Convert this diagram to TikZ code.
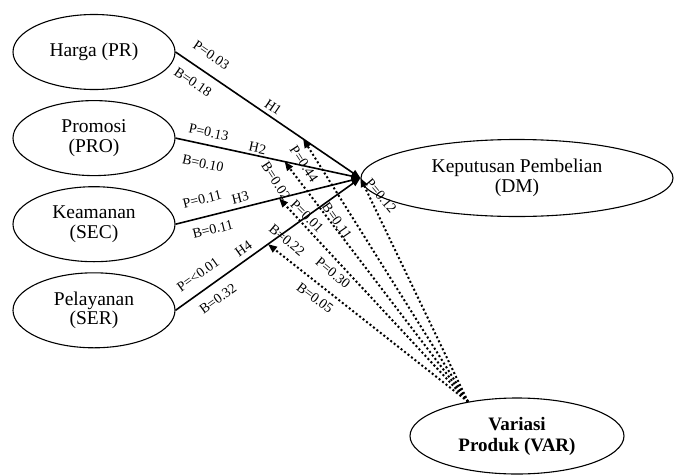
\documentclass[tikz,border=0pt]{standalone}
\usepackage{fontspec}
\setmainfont{Liberation Serif}
\usepackage{xcolor}
\usepackage{tikz}
\usetikzlibrary{positioning, arrows.meta}
\usetikzlibrary{shapes.geometric}

\begin{document}
\begin{tikzpicture}[x=1pt, y=-1pt,
        construct/.style={draw, ellipse, line width=1.1pt, align=center, inner sep=0pt, font=\fontsize{19.5}{19.5}\selectfont},
        leftvar/.style={construct, minimum width=162pt, minimum height=75pt},
        path/.style={line width=1.6pt, -{Triangle[length=9pt, width=7pt]}},
        moderation/.style={line width=2pt, dash pattern=on 2pt off 2.4pt, -{Triangle[length=9pt, width=7pt]}},
        coef/.style={font=\fontsize{14}{15}\selectfont, inner sep=1.5pt}]
        \useasboundingbox (0,0) rectangle (674,474);
        % Independent variables
        \node (pr) [leftvar] at (94,52) {Harga (PR)};
        \node (pro) [leftvar, below=10pt of pr] {Promosi\\(PRO)};
        \node (sec) [leftvar, below=10pt of pro] {Keamanan\\(SEC)};
        \node (ser) [leftvar, below=10pt of sec] {Pelayanan\\(SER)};
        % Dependent and moderating variable
        \node (dm) [construct, minimum width=312pt, minimum height=77pt] at (517,178) {Keputusan Pembelian\\(DM)};
        \node (var) [construct, minimum width=214pt, minimum height=76pt, font=\fontsize{19}{21}\selectfont\bfseries] at (517,436) {Variasi\\Produk (VAR)};
        % Hypotheses H1-H4
        \draw[path] (pr.east) -- (dm.west) coordinate[pos=0.69] (m1)
            node[coef, sloped, above=10.5pt, pos=0.14] {P=0.03}
            node[coef, sloped, below=8pt, pos=0.14] {B=0.18}
            node[coef, sloped, above=2.5pt, pos=0.5] {H1};
        \draw[path] (pro.east) -- (dm.west) coordinate[pos=0.59] (m2)
            node[coef, sloped, above=5.5pt, pos=0.165] {P=0.13}
            node[coef, sloped, below=12pt, pos=0.17] {B=0.10}
            node[coef, sloped, above=0.5pt, pos=0.435] {H2};
        \draw[path] (sec.east) -- (dm.west) coordinate[pos=0.56] (m3)
            node[coef, sloped, above=10.5pt, pos=0.167] {P=0.11}
            node[coef, sloped, below=7pt, pos=0.183] {B=0.11}
            node[coef, sloped, above=3pt, pos=0.363] {H3};
        \draw[path] (ser.east) -- (dm.west) coordinate[pos=0.5] (m4)
            node[coef, sloped, above=9pt, pos=0.172] {P=<0.01}
            node[coef, sloped, below=8.5pt, pos=0.18] {B=0.32}
            node[coef, sloped, above=3.5pt, pos=0.4] {H4};
        % Moderation by VAR
        \draw[moderation] (var.145) -- (m1);
        \draw[moderation] (var.145) -- (m2);
        \draw[moderation] (var.145) -- (m3);
        \draw[moderation] (var.145) -- (m4);
        \draw[moderation] (var.145) -- (dm.west);
        \node[coef, rotate=-57] (p44) at (304,164) {P=0.44};
        \node[coef, rotate=-57] (b02) at (276,181) {B=0.02};
        \node[coef, rotate=-45] (p01) at (307,216) {P=0.01};
        \node[coef, rotate=-55] (b11) at (337,221) {B=0.11};
        \node[coef, rotate=-50] (p12) at (381,196) {P=0.12};
        \node[coef, rotate=-40] (b22) at (287,240) {B=0.22};
        \node[coef, rotate=-40] (p30) at (333,273) {P=0.30};
        \node[coef, rotate=-37] (b05) at (315,298) {B=0.05};
    \end{tikzpicture}
\end{document}
